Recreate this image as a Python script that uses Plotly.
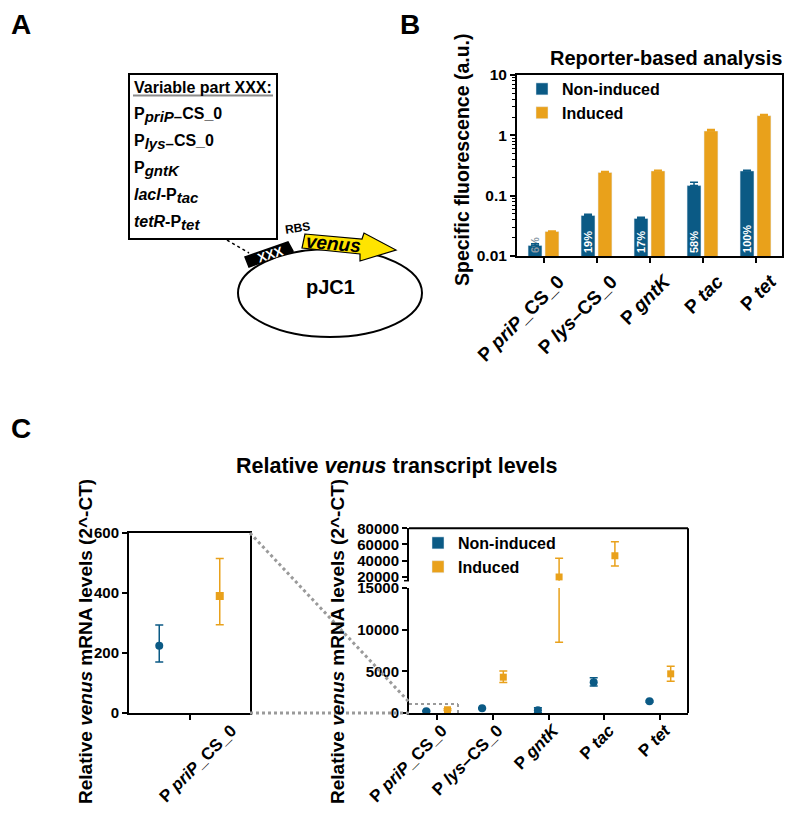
import plotly.graph_objects as go

# ---- data -------------------------------------------------------------
promoters = ["P <i>priP</i>_CS_0", "P <i>lys</i>–CS_0", "P <i>gntK</i>", "P <i>tac</i>", "P <i>tet</i>"]
cat_idx = [0, 1, 2, 3, 4]

# B: specific fluorescence (a.u.)
fl_non = [0.015, 0.047, 0.042, 0.147, 0.257]
fl_non_err = [0.001, 0.002, 0.002, 0.02, 0.006]
fl_ind = [0.0255, 0.243, 0.257, 1.18, 2.12]
fl_ind_err = [0.0005, 0.008, 0.008, 0.07, 0.1]
fl_pct = ["6%", "19%", "17%", "58%", "100%"]

# C: relative venus mRNA levels (2^-CT)
mrna_non = [224, 560, 330, 3700, 1400]
mrna_non_up = [69, 60, 300, 520, 100]
mrna_non_dn = [54, 60, 300, 470, 100]
mrna_ind = [390, 4300, 19500, 46000, 4700]
mrna_ind_up = [125, 750, 23500, 17400, 900]
mrna_ind_dn = [96, 650, 11000, 12800, 900]

BLUE = "#0B5A85"
ORANGE = "#E9A11B"
FONT = "Liberation Sans, Arial, sans-serif"
OFF = 8            # page body margin
W, H = 800 - 2 * OFF, 819 - 2 * OFF


def px(x):  # page pixel -> paper x
    return (x - OFF) / W


def py(y):  # page pixel -> paper y
    return 1 - (y - OFF) / H


fig = go.Figure()

# ---- panel B: bars on log axis ------------------------------------------
fig.add_trace(go.Bar(
    x=cat_idx, y=fl_non, name="Non-induced", marker_color=BLUE, legend="legend",
    error_y=dict(type="data", symmetric=False, array=fl_non_err, arrayminus=[0] * 5,
                 color=BLUE, thickness=1.5, width=4),
    text=fl_pct, textposition="inside", insidetextanchor="start", textangle=-90,
    constraintext="none",
    textfont=dict(size=11, color=["#8a99a5", "white", "white", "white", "white"], weight="bold"),
))
fig.add_trace(go.Bar(
    x=cat_idx, y=fl_ind, name="Induced", marker_color=ORANGE, legend="legend",
    error_y=dict(type="data", symmetric=False, array=fl_ind_err, arrayminus=[0] * 5,
                 color=ORANGE, thickness=1.5, width=4),
))

# ---- panel C left: zoom on P priP_CS_0 ----------------------------------
dodge_l = 0.25
fig.add_trace(go.Scatter(
    x=[0 - dodge_l], y=mrna_non[:1], mode="markers", xaxis="x2", yaxis="y2", showlegend=False,
    marker=dict(color=BLUE, size=8, symbol="circle"),
    error_y=dict(type="data", symmetric=False, array=mrna_non_up[:1], arrayminus=mrna_non_dn[:1],
                 color=BLUE, thickness=1.5, width=4),
))
fig.add_trace(go.Scatter(
    x=[0 + dodge_l], y=mrna_ind[:1], mode="markers", xaxis="x2", yaxis="y2", showlegend=False,
    marker=dict(color=ORANGE, size=8, symbol="square"),
    error_y=dict(type="data", symmetric=False, array=mrna_ind_up[:1], arrayminus=mrna_ind_dn[:1],
                 color=ORANGE, thickness=1.5, width=4),
))

# ---- panel C right: broken y axis (lower y3, upper y4) -------------------
dodge_r = 0.19
for xa, ya in [("x3", "y3"), ("x4", "y4")]:
    fig.add_trace(go.Scatter(
        x=[i - dodge_r for i in cat_idx], y=mrna_non, mode="markers", xaxis=xa, yaxis=ya,
        showlegend=False, marker=dict(color=BLUE, size=8, symbol="circle"),
        error_y=dict(type="data", symmetric=False, array=mrna_non_up, arrayminus=mrna_non_dn,
                     color=BLUE, thickness=1.5, width=4),
    ))
    fig.add_trace(go.Scatter(
        x=[i + dodge_r for i in cat_idx], y=mrna_ind, mode="markers", xaxis=xa, yaxis=ya,
        showlegend=False, marker=dict(color=ORANGE, size=7, symbol="square"),
        error_y=dict(type="data", symmetric=False, array=mrna_ind_up, arrayminus=mrna_ind_dn,
                     color=ORANGE, thickness=1.5, width=4),
    ))
# legend-only entries for panel C
fig.add_trace(go.Bar(x=[None], y=[None], name="Non-induced", marker_color=BLUE,
                     xaxis="x3", yaxis="y3", legend="legend2"))
fig.add_trace(go.Bar(x=[None], y=[None], name="Induced", marker_color=ORANGE,
                     xaxis="x3", yaxis="y3", legend="legend2"))

axis_common = dict(showline=True, linecolor="black", linewidth=2, ticks="outside",
                   ticklen=5, tickwidth=2, tickcolor="black", showgrid=False, zeroline=False,
                   automargin=False, tickfont=dict(size=15, weight="bold", color="black"))
cat_font_b = dict(size=19, weight="bold", color="black")
cat_font_c = dict(size=17, weight="bold", color="black")

fig.update_layout(
    width=W, height=H, margin=dict(l=0, r=0, t=0, b=0, autoexpand=False),
    paper_bgcolor="white", plot_bgcolor="white",
    font=dict(family=FONT, color="black"),
    barmode="group", bargap=0.36, bargroupgap=0.18,
    xaxis=dict(domain=[px(517), px(782)], anchor="y", range=[-0.5, 4.5], mirror=True,
               tickvals=cat_idx, ticktext=promoters, tickangle=-45, ticklabelshift=15,
               **{**axis_common, "tickfont": cat_font_b}),
    yaxis=dict(domain=[py(256), py(75)], anchor="x", type="log", range=[-2, 1], dtick=1,
               mirror=True, minor=dict(ticks="outside", ticklen=3, tickwidth=1, dtick="D1"),
               **{**axis_common, "tickfont": dict(size=15.5, weight="bold", color="black")}),
    xaxis2=dict(domain=[px(129), px(250)], anchor="y2", range=[-0.5, 0.5], mirror=True,
                tickvals=[0], ticktext=promoters[:1], tickangle=-45, ticklabelshift=42,
                ticklabelstandoff=-6, **{**axis_common, "tickfont": cat_font_c}),
    yaxis2=dict(domain=[py(713), py(533)], anchor="x2", range=[0, 600], mirror=True,
                tickvals=[0, 200, 400, 600], **axis_common),
    xaxis3=dict(domain=[px(409), px(688)], anchor="y3", range=[-0.5, 4.5],
                tickvals=cat_idx, ticktext=promoters, tickangle=-45, ticklabelshift=5,
                ticklabelstandoff=-6, **{**axis_common, "tickfont": cat_font_c}),
    yaxis3=dict(domain=[py(713), py(588)], anchor="x3", range=[0, 15000], tickformat="d",
                tickvals=[0, 5000, 10000, 15000], **axis_common),
    xaxis4=dict(domain=[px(409), px(688)], anchor="y4", matches="x3", visible=False,
                automargin=False),
    yaxis4=dict(domain=[py(580.7), py(528.3)], anchor="x4", range=[15000, 80000], tickformat="d",
                tickvals=[20000, 40000, 60000, 80000], **axis_common),
    legend=dict(x=px(522), y=py(72), xanchor="left", yanchor="top", bgcolor="rgba(0,0,0,0)",
                font=dict(size=16, weight="bold"), tracegroupgap=0),
    legend2=dict(x=px(418), y=py(526), xanchor="left", yanchor="top", bgcolor="rgba(0,0,0,0)",
                 font=dict(size=16, weight="bold"), tracegroupgap=0),
)

# ---- shapes -------------------------------------------------------------
shapes = []


def seg(x0, y0, x1, y1, color="black", width=2, dash="solid"):
    shapes.append(dict(type="line", xref="paper", yref="paper", x0=px(x0), y0=py(y0),
                       x1=px(x1), y1=py(y1), line=dict(color=color, width=width, dash=dash)))


def poly(points, fill, line_color="black", width=1.5):
    path = "M " + " L ".join(f"{px(a):.5f},{py(b):.5f}" for a, b in points) + " Z"
    shapes.append(dict(type="path", xref="paper", yref="paper", path=path, fillcolor=fill,
                       line=dict(color=line_color, width=width)))


# panel A: box of variable parts
shapes.append(dict(type="rect", xref="paper", yref="paper", x0=px(129), x1=px(277),
                   y0=py(239), y1=py(74), line=dict(color="black", width=2)))
seg(133, 95.5, 273, 95.5, color="#8c8c8c", width=2)
# plasmid
shapes.append(dict(type="circle", xref="paper", yref="paper", x0=px(238), x1=px(422),
                   y0=py(337), y1=py(249), line=dict(color="black", width=2)))
seg(227, 240, 249, 253, width=1.5, dash="dot")
poly([(245, 257), (288, 242), (293, 251), (249, 267)], "black")
poly([(305, 234), (362, 239), (364, 233), (396, 250), (360, 261), (360, 254), (302, 248)],
     "#FFE400", width=1.2)

# panel C right: box top/right and axis break
seg(409, 528.3, 688, 528.3)
seg(688, 528.3, 688, 713)
seg(404, 580.7, 409, 580.7, width=1.5)

# zoom guide lines
GREY = "#9a9a9a"
seg(250, 533, 410, 703, color=GREY, width=3, dash="dot")
seg(250, 713, 409, 713, color=GREY, width=3, dash="dot")
seg(409, 704, 458, 704, color=GREY, width=2, dash="dot")
seg(458, 704, 458, 713, color=GREY, width=2, dash="dot")

fig.update_layout(shapes=shapes)

# ---- annotations ----------------------------------------------------------
notes = []


def note(text, x, y, size, angle=0, xanchor="center", color="black"):
    notes.append(dict(text=text, x=px(x), y=py(y), xref="paper", yref="paper",
                      xanchor=xanchor, yanchor="middle", showarrow=False, textangle=angle,
                      font=dict(size=size, color=color, family=FONT)))


def sub(t):  # subscript kept near full size, as in the original drawing
    return f"<sub><span style='font-size:15px'>{t}</span></sub>"


note("<b>A</b>", 21, 25, 28)
note("<b>B</b>", 410, 25, 28)
note("<b>C</b>", 21, 428, 28)

note("<b>Variable part XXX:</b>", 132, 87.5, 16, xanchor="left")
box_lines = [
    "<b>P" + sub("<i>priP</i>–") + "CS_0</b>",
    "<b>P" + sub("<i>lys</i>–") + "CS_0</b>",
    "<b>P" + sub("<i>gntK</i>") + "</b>",
    "<b><i>lacI</i>-P" + sub("<i>tac</i>") + "</b>",
    "<b><i>tetR</i>-P" + sub("<i>tet</i>") + "</b>",
]
for k, t in enumerate(box_lines):
    note(t, 132, 115 + 27 * k, 16, xanchor="left")
note("<b>RBS</b>", 297, 228, 12, angle=-8)
note("<b>XXX</b>", 270, 254, 13, angle=-18, color="white")
note("<b><i>venus</i></b>", 333, 243, 19, angle=5)
note("<b>pJC1</b>", 330, 287, 20)

note("<b>Reporter-based analysis</b>", 666, 58, 20)
note("<b>Specific fluorescence (a.u.)</b>", 462, 160, 19.5, angle=-90)
note("<b>Relative <i>venus</i> transcript levels</b>", 397, 466, 21.5)
note("<b>Relative <i>venus</i> mRNA levels (2^-CT)</b>", 85, 642, 19, angle=-90)
note("<b>Relative <i>venus</i> mRNA levels (2^-CT)</b>", 337, 642, 19, angle=-90)

fig.update_layout(annotations=notes)

fig.write_html("out.html")
